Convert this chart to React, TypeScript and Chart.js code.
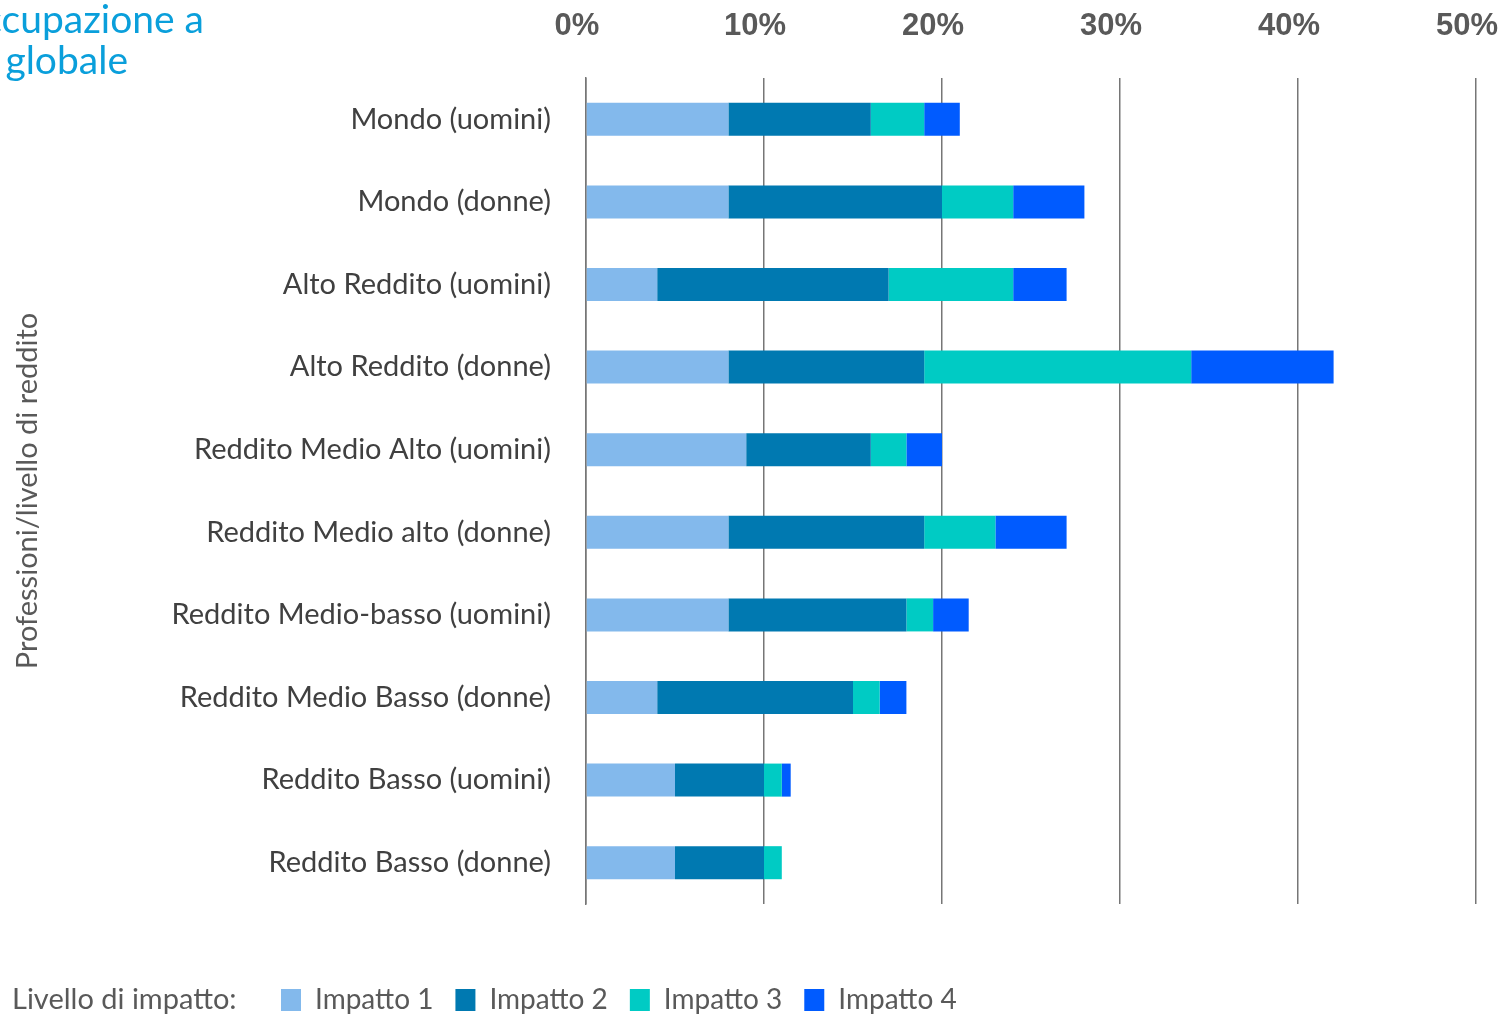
import React, { useEffect, useRef } from "react";
import { Chart, registerables } from "chart.js";

Chart.register(...registerables);

const categories = [
  "Mondo (uomini)",
  "Mondo (donne)",
  "Alto Reddito (uomini)",
  "Alto Reddito (donne)",
  "Reddito Medio Alto (uomini)",
  "Reddito Medio alto (donne)",
  "Reddito Medio-basso (uomini)",
  "Reddito Medio Basso (donne)",
  "Reddito Basso (uomini)",
  "Reddito Basso (donne)",
];
const impatto1 = [8, 8, 4, 8, 9, 8, 8, 4, 5, 5];
const impatto2 = [8, 12, 13, 11, 7, 11, 10, 11, 5, 5];
const impatto3 = [3, 4, 7, 15, 2, 4, 1.5, 1.5, 1, 1];
const impatto4 = [2, 4, 3, 8, 2, 4, 2, 1.5, 0.5, 0];
const seriesLabels = ["Impatto 1", "Impatto 2", "Impatto 3", "Impatto 4"];
const seriesColors = ["#83B9EC", "#0079B1", "#00CBC4", "#005BFF"];
const xMin = 0;
const xMax = 50;
const xStep = 10;
const yTitle = "Professioni/livello di reddito";
const legendPrefix = "Livello di impatto:";
const titleLine1 = "Esposizione dell'occupazione a";
const titleLine2 = "livello globale";

const FONT = "Lato, 'Noto Sans', sans-serif";
const BOLD_FONT = "'Liberation Sans', Arial, sans-serif";

const legendPrefixPlugin = {
  id: "legendPrefix",
  afterLayout(chart: any) {
    const lg = chart.legend;
    if (lg) {
      lg.left = 259;
      lg.top += 5;
      lg.bottom += 5;
    }
  },
  afterDraw(chart: any) {
    const lg = chart.legend;
    if (!lg || !lg.legendHitBoxes || !lg.legendHitBoxes.length) return;
    const hb = lg.legendHitBoxes[0];
    const ctx = chart.ctx;
    ctx.save();
    ctx.font = `29px ${FONT}`;
    ctx.fillStyle = "#595959";
    ctx.textAlign = "left";
    ctx.textBaseline = "middle";
    ctx.fillText(legendPrefix, 12, hb.top + hb.height / 2);
    ctx.restore();
  },
};

export default function App() {
  const ref = useRef<HTMLCanvasElement | null>(null);

  useEffect(() => {
    if (!ref.current) return;
    const series = [impatto1, impatto2, impatto3, impatto4];
    const chart = new Chart(ref.current, {
      type: "bar",
      data: {
        labels: categories,
        datasets: series.map((d, i) => ({
          label: seriesLabels[i],
          data: d,
          backgroundColor: seriesColors[i],
          borderWidth: 0,
          categoryPercentage: 1,
          barPercentage: 0.4,
        })),
      },
      options: {
        indexAxis: "y",
        animation: false,
        responsive: false,
        devicePixelRatio: 1,
        layout: { padding: { left: 0, right: 23, top: 0, bottom: 0 } },
        plugins: {
          tooltip: { enabled: false },
          title: { display: false },
          legend: {
            display: true,
            position: "bottom",
            align: "start",
            title: {
              display: true,
              text: " ",
              font: { family: FONT, size: 10 },
              padding: { top: 0, bottom: 43 },
            },
            labels: {
              boxWidth: 20,
              boxHeight: 22,
              padding: 22,
              color: "#595959",
              font: { family: FONT, size: 28 },
            },
          },
        },
        scales: {
          x: {
            position: "top",
            stacked: true,
            min: xMin,
            max: xMax,
            ticks: {
              stepSize: xStep,
              callback: (v: any) => `${v}%`,
              color: "#595959",
              font: { family: BOLD_FONT, size: 31, weight: "bold" },
              padding: 33,
              labelOffset: -9,
            },
            grid: { color: "#767676", lineWidth: 1.5, drawTicks: false },
            border: { display: false },
            afterFit: (s: any) => {
              s.height = 78;
              s.paddingLeft = 0;
              s.paddingRight = 0;
            },
          },
          y: {
            stacked: true,
            grid: { display: false, drawTicks: false },
            border: { display: true, color: "#767676", width: 1.5 },
            ticks: {
              color: "#404040",
              font: { family: FONT, size: 29 },
              padding: 35,
            },
            title: {
              display: true,
              text: yTitle,
              color: "#595959",
              font: { family: FONT, size: 29 },
              padding: { top: 10, bottom: 0 },
            },
            afterFit: (s: any) => {
              s.width = 586;
            },
          },
        },
      },
      plugins: [legendPrefixPlugin],
    });
    return () => chart.destroy();
  }, []);

  const titleStyle: React.CSSProperties = {
    position: "absolute",
    whiteSpace: "nowrap",
    fontFamily: FONT,
    fontSize: 39,
    lineHeight: "42px",
    color: "#0A9FDB",
  };

  return (
    <div
      style={{
        position: "fixed",
        left: 0,
        top: 0,
        width: 1499,
        height: 1019,
        background: "#fff",
        overflow: "hidden",
      }}
    >
      <canvas
        ref={ref}
        width={1499}
        height={1019}
        style={{ position: "absolute", left: 0, top: 0, width: 1499, height: 1019 }}
      />
      <div style={{ ...titleStyle, right: 1499 - 204, top: -3 }}>{titleLine1}</div>
      <div style={{ ...titleStyle, right: 1499 - 128, top: 38 }}>{titleLine2}</div>
    </div>
  );
}
